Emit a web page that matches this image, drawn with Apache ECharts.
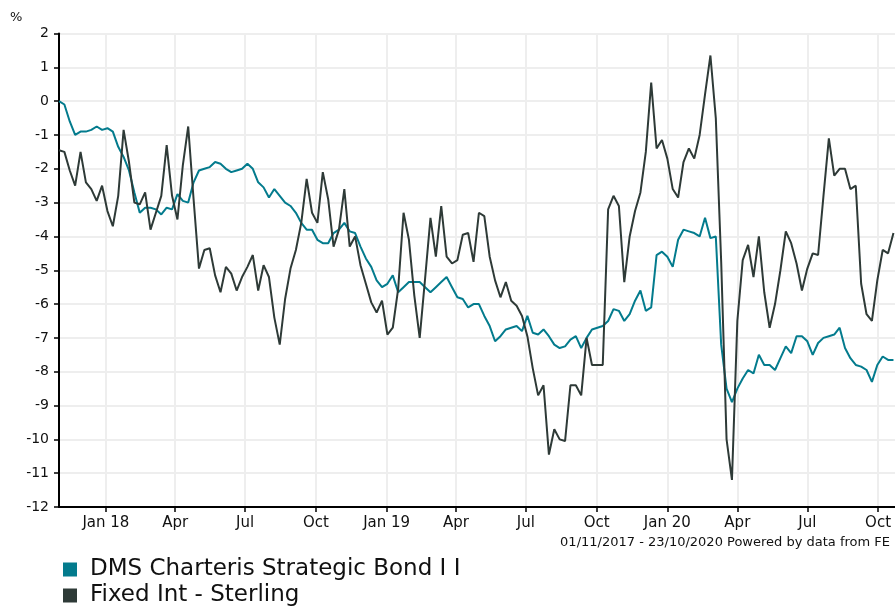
<!DOCTYPE html>
<html><head><meta charset="utf-8">
<script src="https://cdn.jsdelivr.net/npm/echarts@6/dist/echarts.min.js"></script>
<style>html,body{margin:0;padding:0;background:#fff}#c{width:895px;height:606px}</style>
</head><body><div id="c"></div>
<script>
const seriesNames = ['DMS Charteris Strategic Bond I I', 'Fixed Int - Sterling'];
const startDate = '2017-11-01';
const endDate = '2020-10-23';
const tickDates = ['2018-01-01','2018-04-01','2018-07-01','2018-10-01','2019-01-01','2019-04-01','2019-07-01','2019-10-01','2020-01-01','2020-04-01','2020-07-01','2020-10-01'];
const tickLabels = ['Jan 18','Apr','Jul','Oct','Jan 19','Apr','Jul','Oct','Jan 20','Apr','Jul','Oct'];
// weekly readings starting 2017-11-01 (% cumulative)
const dmsValues = [
0, -0.1, -0.6, -1.0, -0.9, -0.9, -0.85, -0.75, -0.85, -0.8,
-0.9, -1.35, -1.65, -2.05, -2.7, -3.3, -3.15, -3.15, -3.2, -3.35,
-3.15, -3.2, -2.75, -2.95, -3.0, -2.4, -2.05, -2.0, -1.95, -1.8,
-1.85, -2.0, -2.1, -2.05, -2.0, -1.85, -2.0, -2.4, -2.55, -2.85,
-2.6, -2.8, -3.0, -3.1, -3.3, -3.6, -3.8, -3.8, -4.1, -4.2,
-4.2, -3.9, -3.8, -3.6, -3.85, -3.9, -4.3, -4.65, -4.9, -5.3,
-5.5, -5.4, -5.15, -5.65, -5.5, -5.35, -5.35, -5.35, -5.5, -5.65,
-5.5, -5.35, -5.2, -5.5, -5.8, -5.85, -6.1, -6.0, -6.0, -6.35,
-6.65, -7.1, -6.95, -6.75, -6.7, -6.65, -6.8, -6.35, -6.85, -6.9,
-6.75, -6.95, -7.2, -7.3, -7.25, -7.05, -6.95, -7.3, -7.0, -6.75,
-6.7, -6.65, -6.5, -6.15, -6.2, -6.5, -6.3, -5.9, -5.6, -6.2,
-6.1, -4.55, -4.45, -4.6, -4.9, -4.1, -3.8, -3.85, -3.9, -4.0,
-3.45, -4.05, -4.0, -7.2, -8.5, -8.9, -8.5, -8.2, -7.95, -8.05,
-7.5, -7.8, -7.8, -7.95, -7.6, -7.25, -7.45, -6.95, -6.95, -7.1,
-7.5, -7.15, -7.0, -6.95, -6.9, -6.7, -7.3, -7.6, -7.8, -7.85,
-7.95, -8.3, -7.8, -7.55, -7.65, -7.65
];
const sectorValues = [
-1.45, -1.5, -2.05, -2.5, -1.5, -2.4, -2.6, -2.95, -2.5, -3.25,
-3.7, -2.8, -0.85, -1.8, -3.0, -3.05, -2.7, -3.8, -3.3, -2.8,
-1.3, -2.8, -3.5, -1.9, -0.75, -2.9, -4.95, -4.4, -4.35, -5.15,
-5.65, -4.9, -5.1, -5.6, -5.2, -4.9, -4.55, -5.6, -4.85, -5.2,
-6.4, -7.2, -5.85, -4.95, -4.4, -3.6, -2.3, -3.3, -3.6, -2.1,
-2.9, -4.3, -3.8, -2.6, -4.3, -4.0, -4.85, -5.4, -5.95, -6.25,
-5.9, -6.9, -6.7, -5.55, -3.3, -4.1, -5.75, -7.0, -5.25, -3.45,
-4.6, -3.1, -4.6, -4.8, -4.7, -3.95, -3.9, -4.75, -3.3, -3.4,
-4.6, -5.3, -5.8, -5.35, -5.9, -6.05, -6.35, -6.95, -7.9, -8.7,
-8.4, -10.45, -9.7, -10.0, -10.05, -8.4, -8.4, -8.7, -7.0, -7.8,
-7.8, -7.8, -3.2, -2.8, -3.1, -5.35, -4.0, -3.25, -2.7, -1.5,
0.55, -1.4, -1.15, -1.7, -2.6, -2.85, -1.8, -1.4, -1.7, -1.0,
0.2, 1.35, -0.5, -4.75, -10.0, -11.2, -6.5, -4.7, -4.25, -5.2,
-4.0, -5.65, -6.7, -6.0, -5.0, -3.85, -4.2, -4.8, -5.6, -4.95,
-4.5, -4.55, -2.8, -1.1, -2.2, -2.0, -2.0, -2.6, -2.5, -5.4,
-6.3, -6.5, -5.3, -4.4, -4.5, -3.9
];

const DAY = 864e5;
const t0 = Date.parse(startDate);
const t1 = Date.parse(endDate);
const toPairs = vals => vals.map((v, i) => [t0 + i * 7 * DAY, v]);
const tickValues = tickDates.map(d => Date.parse(d));
const teal = '#037b8d';
const dark = '#2e3a37';

const legendBase = {
  orient: 'horizontal', left: 63, padding: 0,
  itemWidth: 14, itemHeight: 14, icon: 'rect',
  textStyle: { fontSize: 23, color: '#111', padding: [0, 0, 0, 8] }
};

const chart = echarts.init(document.getElementById('c'));
chart.setOption({
  animation: false,
  textStyle: { fontFamily: 'DejaVu Sans' },
  title: [
    { text: '%', left: 10, top: 11, padding: 0, textStyle: { fontSize: 13, fontWeight: 'normal', color: '#111' } },
    { text: '01/11/2017 - 23/10/2020 Powered by data from FE', right: 5, top: 536, padding: 0,
      textStyle: { fontSize: 13, fontWeight: 'normal', color: '#111' } }
  ],
  grid: { left: 59, right: 0, top: 33.5, bottom: 99 },
  legend: [
    Object.assign({}, legendBase, { top: 558, data: [seriesNames[0]] }),
    Object.assign({}, legendBase, { top: 584, data: [seriesNames[1]] })
  ],
  xAxis: {
    type: 'value', min: t0, max: t1, scale: true,
    axisLine: { onZero: false, lineStyle: { color: '#000', width: 2 } },
    axisTick: { show: true, customValues: tickValues, length: 5, lineStyle: { color: '#000', width: 1.5 } },
    axisLabel: {
      customValues: tickValues, fontSize: 15, color: '#111', margin: 9,
      formatter: v => { const i = tickValues.indexOf(v); return i >= 0 ? tickLabels[i] : ''; }
    },
    splitLine: { show: true, lineStyle: { color: '#eeeeee', width: 2 } }
  },
  yAxis: {
    type: 'value', min: -12, max: 2, interval: 1,
    axisLine: { show: true, lineStyle: { color: '#000', width: 2 } },
    axisTick: { show: true, length: 5, lineStyle: { color: '#000', width: 1.5 } },
    axisLabel: { fontSize: 14, color: '#111', margin: 10 },
    splitLine: { show: true, lineStyle: { color: '#eeeeee', width: 2 } }
  },
  series: [
    { name: seriesNames[0], type: 'line', data: toPairs(dmsValues), symbol: 'none', showSymbol: false,
      lineStyle: { color: teal, width: 2 }, itemStyle: { color: teal } },
    { name: seriesNames[1], type: 'line', data: toPairs(sectorValues), symbol: 'none', showSymbol: false,
      lineStyle: { color: dark, width: 2 }, itemStyle: { color: dark } }
  ]
});
</script></body></html>
